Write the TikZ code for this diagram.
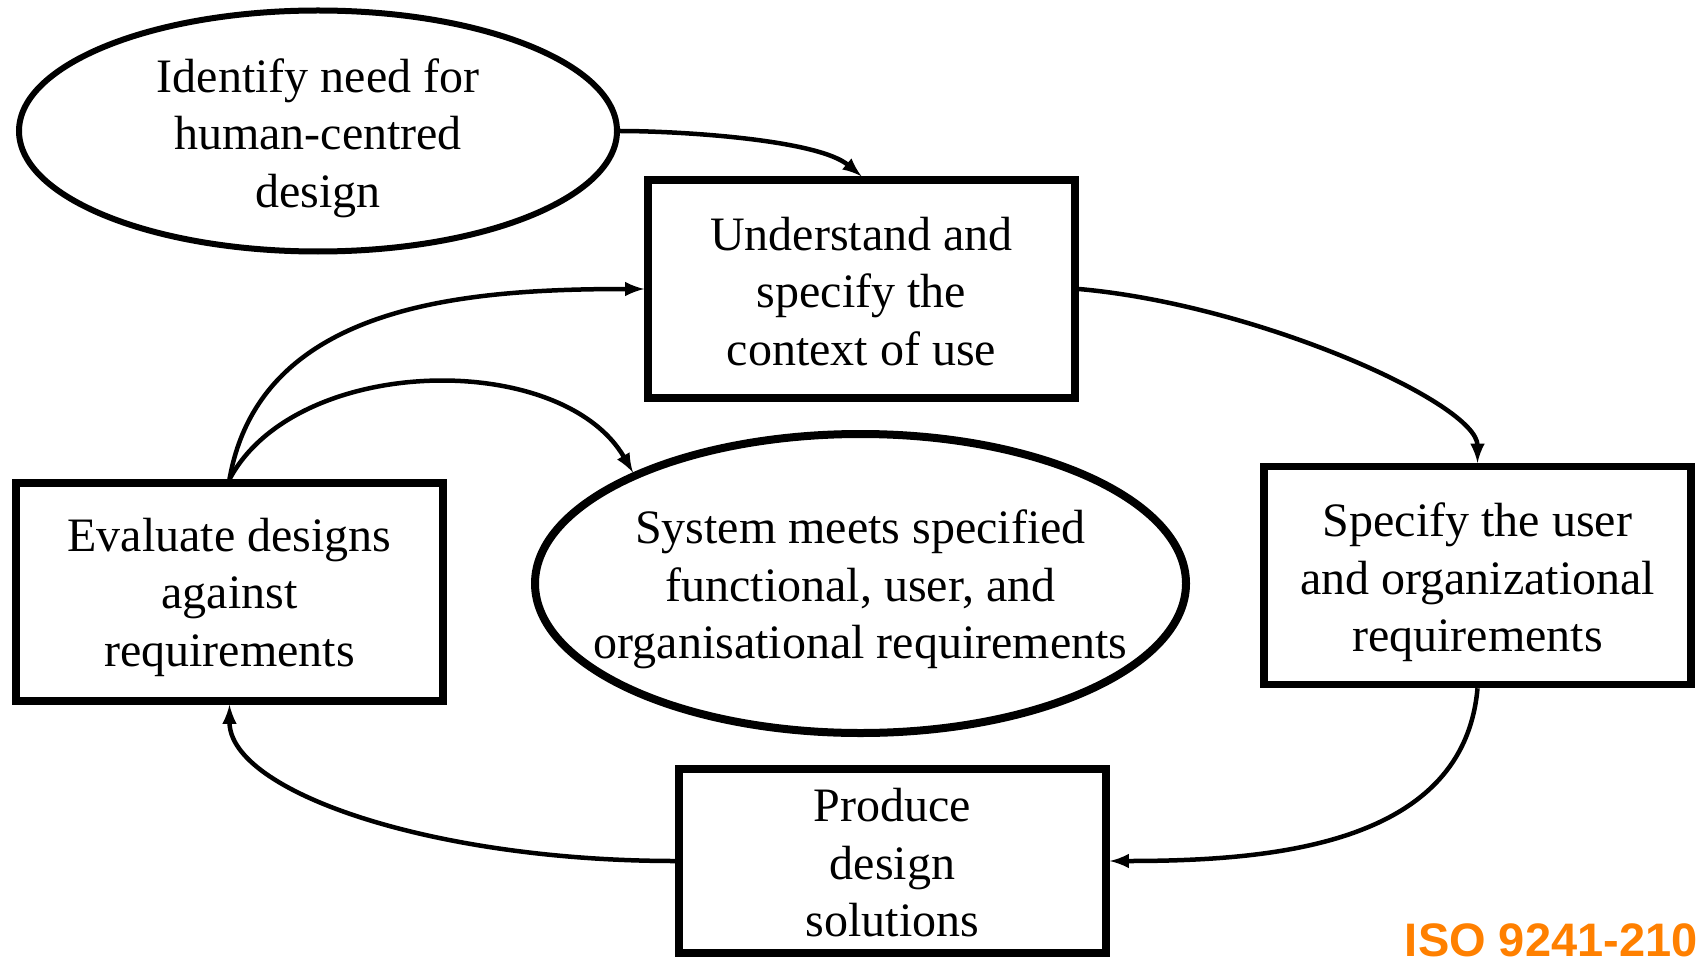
\documentclass[tikz,border=0pt]{standalone}
\usepackage{fontspec}
\setmainfont{Liberation Serif}
\newfontfamily\isofont{Liberation Sans}
\usepackage{xcolor}
\usetikzlibrary{arrows,shapes.geometric}
\definecolor{isoorange}{RGB}{255,128,0}
\newcommand{\topgap}[1]{\rule{0pt}{#1}}

\begin{document}
\begin{tikzpicture}[x=0.5pt,y=-0.5pt]
\tikzset{every node/.style={font=\fontsize{24}{28.75}\selectfont}}
\tikzset{stepbox/.style={draw,line width=3.75pt,rectangle,minimum width=213.5pt,minimum height=109pt,inner sep=0pt,align=center}}
\tikzset{goal/.style={draw,ellipse,inner sep=0pt,align=center}}
\tikzset{flow/.style={-latex,line width=2.25pt}}

\useasboundingbox (0,0) rectangle (1700,957);

\node[goal,line width=3pt,inner ysep=-1.5pt,minimum width=299pt,minimum height=120.5pt] (identify) at (318,131) {\topgap{24pt}Identify need for\\human-centred\\design};
\node[stepbox] (understand) at (861.5,289) {\topgap{19pt}Understand and\\specify the\\context of use};
\node[stepbox] (specify) at (1477.5,575.5) {\topgap{24pt}Specify the user\\and organizational\\requirements};
\node[stepbox,minimum height=92pt] (produce) at (892.5,861) {\topgap{18.5pt}Produce\\design\\solutions};
\node[stepbox] (evaluate) at (229.5,592) {\topgap{22pt}Evaluate designs\\against\\requirements};
\node[goal,line width=4pt,inner xsep=-20pt,minimum width=325.5pt,minimum height=149.5pt] (meets) at (860.5,583.5) {\topgap{23pt}System meets specified\\functional, user, and\\organisational requirements};

\node[anchor=base east,font=\isofont\bfseries\fontsize{23.5}{28}\selectfont,text=isoorange,inner sep=0pt] (isolabel) at (1698,956) {ISO 9241-210};

\draw[flow] (identify.east) to[out=0,in=140,looseness=0.6] (understand.north);
\draw[flow] (understand.east) to[out=-5,in=90,out looseness=1.05,in looseness=0.35] (specify.north);
\draw[flow] (specify.south) to[out=-95,in=0] (produce.east);
\draw[flow] (produce.west) to[out=180,in=-90,out looseness=1.32,in looseness=0.47] (evaluate.south);
\draw[flow] (evaluate.north) to[out=80,in=180] (understand.west);
\draw[flow] (evaluate.north) to[out=62,in=120,looseness=0.9] (meets.154);

\end{tikzpicture}
\end{document}
